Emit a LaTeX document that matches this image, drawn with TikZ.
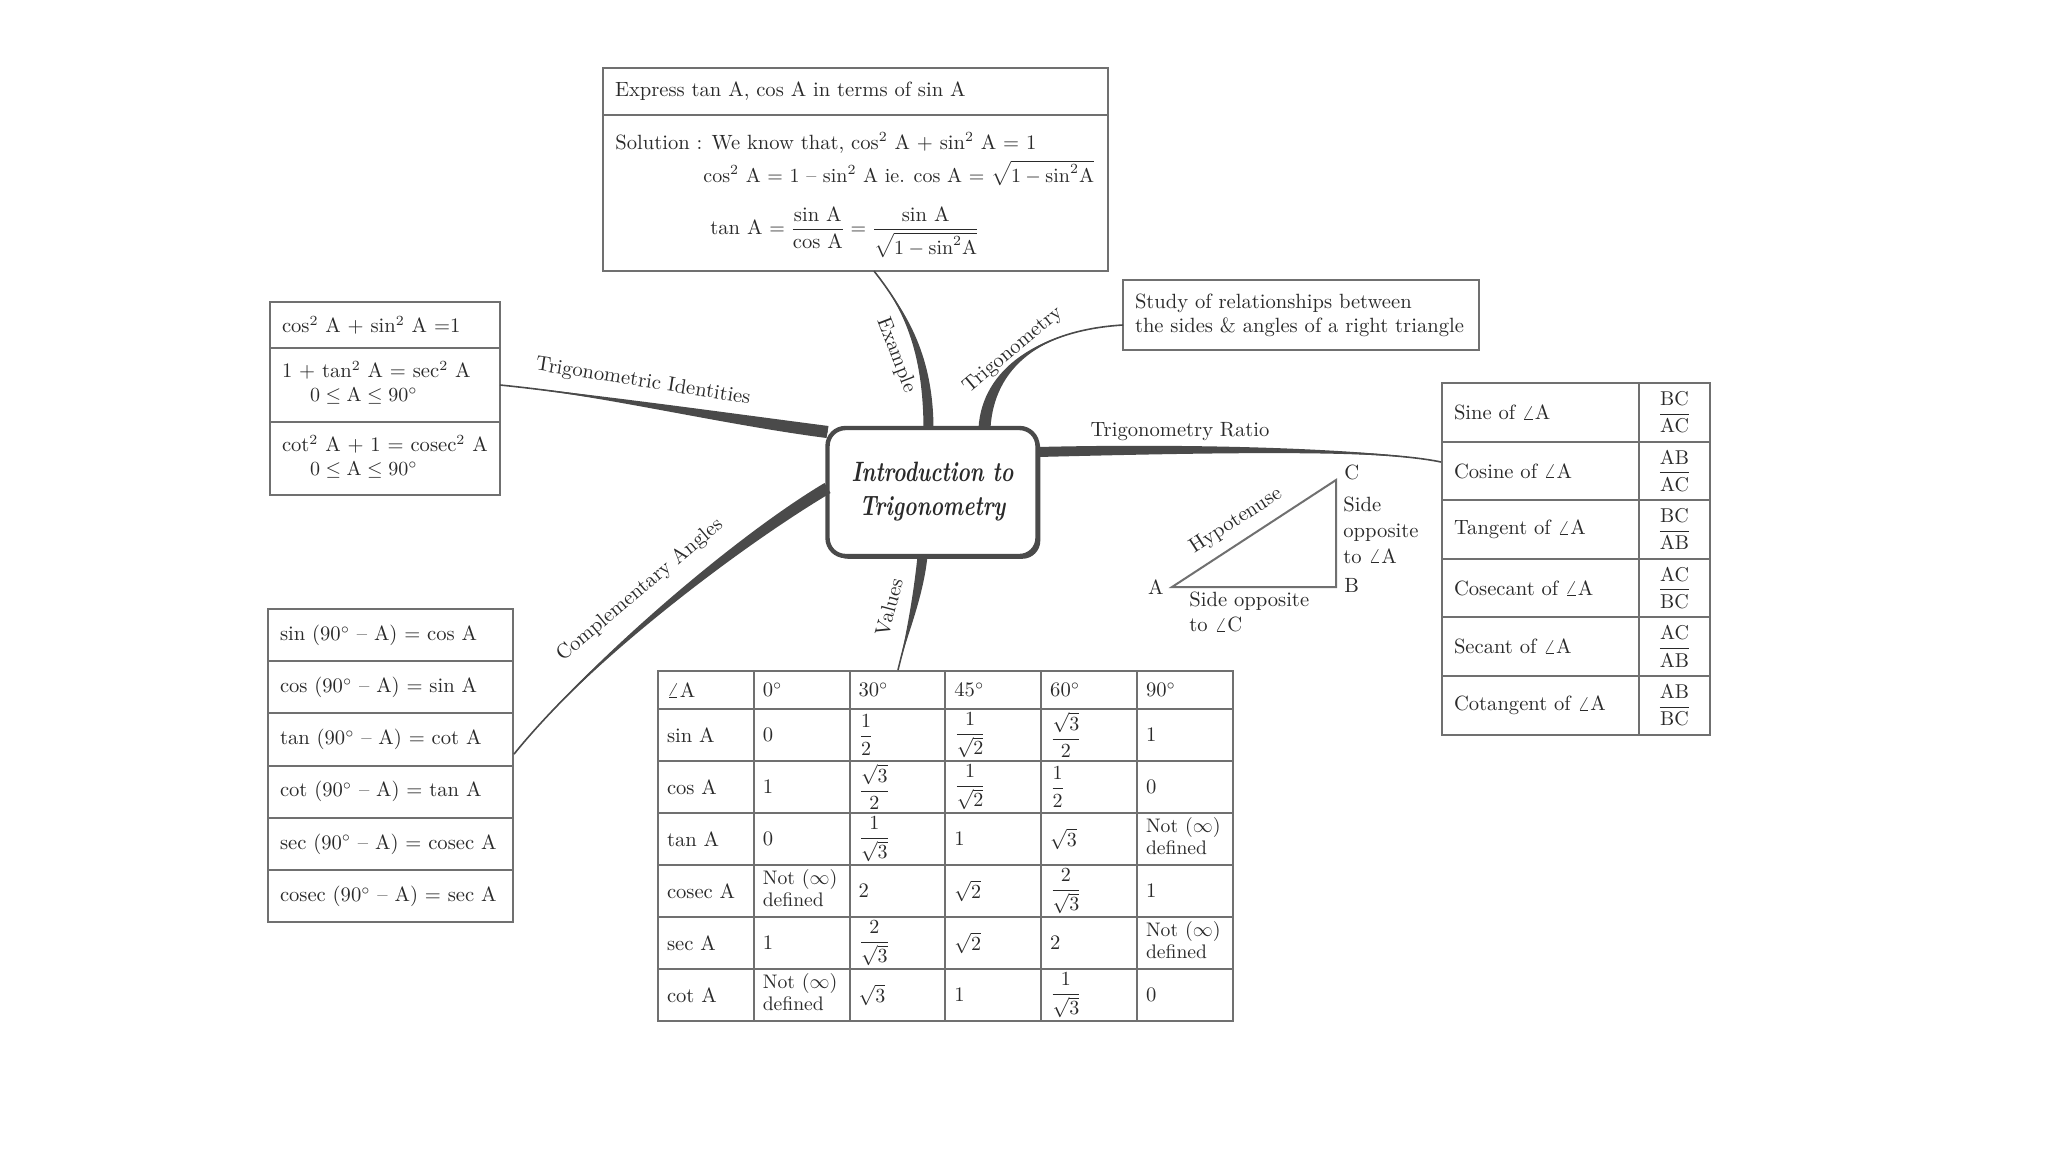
\documentclass[tikz,border=0pt]{standalone}
\usepackage{amsmath}
\usepackage{graphicx}
\usetikzlibrary{matrix,calc,shadows}
\definecolor{txt}{HTML}{2A2A2A}
\definecolor{ln}{HTML}{707070}
\definecolor{brc}{HTML}{4A4A4A}
\newcommand\titlefont{\fontsize{14}{17}\selectfont\bfseries\itshape}
\newcommand\ndf{{\fontsize{9.8}{11.2}\selectfont\begin{tabular}{@{}l@{}}Not $(\infty)$\\defined\end{tabular}}}
\newcommand\taper[5]{%
  \fill[brc] #1 .. controls #2 and ($#3+#5$) .. ($#4+#5$) -- ($#4-#5$) .. controls ($#3-#5$) and #2 .. #1 -- cycle;
  \draw[brc, line width=0.8pt] #1 .. controls #2 and #3 .. #4;
}
\tikzset{
  every node/.style={text=txt, font=\fontsize{10.3}{12}\selectfont},
  boxs/.style={draw=ln, line width=1pt, outer sep=0pt, inner xsep=6pt, inner ysep=1pt, align=left},
  cellbox/.style={draw=ln, line width=1pt, outer sep=0pt, inner xsep=6pt, inner ysep=1pt, align=left, anchor=center},
  tabm/.style={matrix of nodes, anchor=north west, inner sep=0pt, outer sep=0pt, column sep=-1pt, row sep=-1pt},
  lbl/.style={inner sep=0pt},
}
\begin{document}
\begin{tikzpicture}[x=0.5pt, y=-0.5pt]
\fill[white] (0,0) rectangle (2048,1152);
\useasboundingbox (0,0) rectangle (2048,1152);

% central node
\node (ctr) [draw=brc, line width=2.2pt, rounded corners=9pt, fill=white, outer sep=0pt,
  minimum width=105pt, minimum height=64pt, align=center,
  drop shadow={shadow xshift=1.4pt, shadow yshift=-1.4pt, fill=brc, opacity=1},
  font=\titlefont] at (932.5,492) {\scalebox{0.76}[1]{Introduction to}\\\scalebox{0.76}[1]{Trigonometry}};

% example box
\node (exhead) [boxs, anchor=north west, text width=240.5pt, minimum height=23.5pt] at (603,68)
  {Express tan A, cos A in terms of sin A};
\node (exbody) [boxs, anchor=north west, minimum width=252.5pt, minimum height=78pt] at (exhead.south west) {};
\node (sol1) [lbl, anchor=west] at (615,143) {Solution : We know that, cos$^2$ A + sin$^2$ A = 1};
\node (sol2) [lbl, anchor=west, font=\fontsize{10}{12}\selectfont] at (703,173) {cos$^2$ A = 1 -- sin$^2$ A ie. cos A = $\sqrt{1-\mathrm{sin}^2\mathrm{A}}$};
\node (sol3) [lbl, anchor=west] at (710,232) {tan A $=\dfrac{\mbox{sin A}}{\mbox{cos A}}=\dfrac{\mbox{sin A}}{\sqrt{1-\mathrm{sin}^2\mathrm{A}}}$};

% study box
\node (study) [boxs, anchor=north west, text width=166pt, minimum height=35pt] at (1123,280)
  {Study of relationships between\\the sides \& angles of a right triangle};

% identities
\matrix (idt) [tabm, nodes={cellbox, text width=103pt},
  row 1/.style={nodes={minimum height=23pt}},
  row 2/.style={nodes={minimum height=37pt}},
  row 3/.style={nodes={minimum height=36.5pt}}] at (269,301) {
  cos$^2$ A + sin$^2$ A =1 \\
  \begin{tabular}{@{}l@{}}1 + tan$^2$ A = sec$^2$ A\\\hspace*{14pt}$0\le \mathrm{A}\le 90^\circ$\end{tabular} \\
  \begin{tabular}{@{}l@{}}cot$^2$ A + 1 = cosec$^2$ A\\\hspace*{14pt}$0\le \mathrm{A}\le 90^\circ$\end{tabular} \\
};

% complementary angles
\matrix (comp) [tabm, nodes={cellbox, text width=110.5pt, minimum height=26.1pt}] at (267,608) {
  sin (90$^\circ$ -- A) = cos A \\
  cos (90$^\circ$ -- A) = sin A \\
  tan (90$^\circ$ -- A) = cot A \\
  cot (90$^\circ$ -- A) = tan A \\
  sec (90$^\circ$ -- A) = cosec A \\
  cosec (90$^\circ$ -- A) = sec A \\
};

% ratio table
\matrix (rt) [tabm, nodes={cellbox, minimum height=29.3pt},
  column 1/.style={nodes={text width=86.5pt}},
  column 2/.style={nodes={text width=23.5pt, align=center}}] at (1441,382) {
  Sine of $\angle$A & $\dfrac{\mathrm{BC}}{\mathrm{AC}}$ \\
  Cosine of $\angle$A & $\dfrac{\mathrm{AB}}{\mathrm{AC}}$ \\
  Tangent of $\angle$A & $\dfrac{\mathrm{BC}}{\mathrm{AB}}$ \\
  Cosecant of $\angle$A & $\dfrac{\mathrm{AC}}{\mathrm{BC}}$ \\
  Secant of $\angle$A & $\dfrac{\mathrm{AC}}{\mathrm{AB}}$ \\
  Cotangent of $\angle$A & $\dfrac{\mathrm{AB}}{\mathrm{BC}}$ \\
};

% values table
\matrix (vt) [tabm, nodes={cellbox, inner xsep=4.5pt, inner ysep=0pt, text width=38.9pt, minimum height=26pt},
  row 1/.style={nodes={minimum height=19pt}}] at (657,670) {
  $\angle$A & 0$^\circ$ & 30$^\circ$ & 45$^\circ$ & 60$^\circ$ & 90$^\circ$ \\
  sin A & 0 & $\dfrac{1}{2}$ & $\dfrac{1}{\sqrt2}$ & $\dfrac{\sqrt3}{2}$ & 1 \\
  cos A & 1 & $\dfrac{\sqrt3}{2}$ & $\dfrac{1}{\sqrt2}$ & $\dfrac{1}{2}$ & 0 \\
  tan A & 0 & $\dfrac{1}{\sqrt3}$ & 1 & $\sqrt3$ & \ndf \\
  cosec A & \ndf & 2 & $\sqrt2$ & $\dfrac{2}{\sqrt3}$ & 1 \\
  sec A & 1 & $\dfrac{2}{\sqrt3}$ & $\sqrt2$ & 2 & \ndf \\
  cot A & \ndf & $\sqrt3$ & 1 & $\dfrac{1}{\sqrt3}$ & 0 \\
};

% triangle
\coordinate (tA) at (1172,587);
\coordinate (tB) at (1336,587);
\coordinate (tC) at (1336,480);
\draw[ln, line width=1pt, line join=miter] (tA) -- (tB) -- (tC) -- cycle;
\node (lA) [lbl, anchor=east] at ([xshift=-4pt]tA) {A};
\node (lB) [lbl, anchor=west] at ([xshift=4pt,yshift=1pt]tB) {B};
\node (lC) [lbl, anchor=west] at ([xshift=4pt,yshift=4pt]tC) {C};
\node (hyp) [lbl, rotate=33] at (1236,521) {Hypotenuse};
\node (sopA) [lbl, anchor=north west, align=left, font=\fontsize{10.3}{12.8}\selectfont] at (1343,497) {Side\\opposite\\to $\angle$A};
\node (sopC) [lbl, anchor=north west, align=left, font=\fontsize{10.3}{12.5}\selectfont] at (1189,592) {Side opposite\\to $\angle$C};

% branch end points
\coordinate (exA) at ([xshift=9.25pt]exbody.south);
\coordinate (exB) at ([xshift=-2pt]ctr.north);
\coordinate (trA) at ([yshift=-5pt]study.west);
\coordinate (trB) at ([xshift=26pt]ctr.north);
\coordinate (raA) at ([yshift=-40pt]rt.north west);
\coordinate (raB) at ([yshift=20pt]ctr.east);
\coordinate (vaA) at ([xshift=120.5pt]vt.north west);
\coordinate (vaB) at ([xshift=-5pt]ctr.south);
\coordinate (coA) at ([yshift=5.75pt]comp.east);
\coordinate (coB) at ([yshift=2pt]ctr.west);
\coordinate (idA) at (idt-2-1.east);
\coordinate (idB) at ([yshift=30pt]ctr.west);

% branches
\taper{(exA)}{(903,308)}{(928,350)}{(exB)}{(5,0)}
\taper{(trA)}{(1040,330)}{(988,368)}{(trB)}{(6,0)}
\taper{(raA)}{(1380,449)}{(1200,448)}{(raB)}{(0,5)}
\taper{(vaA)}{(905,640)}{(918,600)}{(vaB)}{(5,0)}
\taper{(coA)}{(590,660)}{(740,540)}{(coB)}{(3,5)}
\taper{(idA)}{(600,395)}{(720,418)}{(idB)}{(-1,6)}

% branch labels
\node (lid) [lbl, rotate=-9] at (643,382) {Trigonometric Identities};
\node (lex) [lbl, rotate=-69] at (896,355) {Example};
\node (ltr) [lbl, rotate=40] at (1013,350) {Trigonometry};
\node (lrat) [lbl] at (1180,432) {Trigonometry Ratio};
\node (lval) [lbl, rotate=75] at (889,607) {Values};
\node (lcomp) [lbl, rotate=40] at (640,590) {Complementary Angles};
\end{tikzpicture}
\end{document}
